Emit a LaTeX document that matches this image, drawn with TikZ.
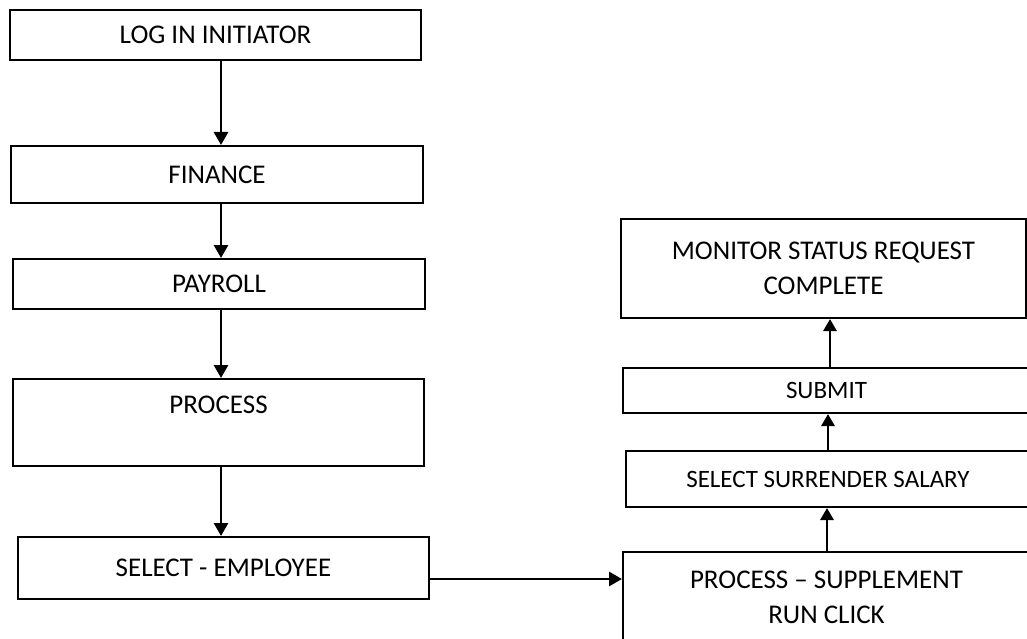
\documentclass[tikz,border=0pt]{standalone}
\usepackage{fontspec}
\setmainfont{Carlito}
\usetikzlibrary{arrows.meta}
\begin{document}
\begin{tikzpicture}[x=1pt,y=-1pt,
  stepbox/.style={draw=black, line width=2pt, rectangle, inner sep=0pt,
    align=center, font=\fontsize{27}{35}\selectfont, text=black},
  smallbox/.style={stepbox, font=\fontsize{25}{32}\selectfont},
  arr/.style={line width=2.8pt, -{Triangle[width=14pt,length=13pt]}},
  arrs/.style={line width=2.8pt, -{Triangle[width=13pt,length=12pt]}}]
  \useasboundingbox (0,0) rectangle (1027,639);
  \fill[white] (0,0) rectangle (1027,639);
  \clip (0,0) rectangle (1027,639);

  % left column
  \node[stepbox, minimum width=411pt, minimum height=50pt] (login) at (215.5,35) {LOG IN INITIATOR};
  \node[stepbox, minimum width=412pt, minimum height=57pt] (fin) at (217,174.5) {FINANCE};
  \node[stepbox, minimum width=412pt, minimum height=50pt] (pay) at (219,284) {PAYROLL};
  \node[stepbox, minimum width=411pt, minimum height=87pt] (proc) at (218.5,422.5) {PROCESS\\\mbox{}};
  \node[stepbox, minimum width=411pt, minimum height=62pt] (emp) at (223.5,568) {SELECT - EMPLOYEE};

  % right column
  \node[stepbox, minimum width=407pt, minimum height=91pt] (sup) at (826.5,597.5) {PROCESS – SUPPLEMENT\\RUN CLICK};
  \node[smallbox, minimum width=404pt, minimum height=56pt] (sal) at (828,479) {SELECT SURRENDER SALARY};
  \node[smallbox, minimum width=407pt, minimum height=45pt] (sub) at (826.5,390.5) {SUBMIT};
  \node[stepbox, minimum width=405pt, minimum height=99pt] (mon) at (823.5,268.5) {MONITOR STATUS REQUEST\\COMPLETE};

  % connector columns
  \coordinate (xl) at (221,0);
  \coordinate (xr1) at (827,0);
  \coordinate (xr2) at (828,0);
  \coordinate (xr3) at (830,0);
  \coordinate (h1) at ([yshift=-11pt]emp.east);

  \draw[arr] (login.south -| xl) -- (fin.north -| xl);
  \draw[arr] (fin.south -| xl) -- (pay.north -| xl);
  \draw[arr] (pay.south -| xl) -- (proc.north -| xl);
  \draw[arr] (proc.south -| xl) -- (emp.north -| xl);
  \draw[arr] (h1) -- (h1 -| sup.west);
  \draw[arrs] (sup.north -| xr1) -- (sal.south -| xr1);
  \draw[arrs] (sal.north -| xr2) -- (sub.south -| xr2);
  \draw[arrs] (sub.north -| xr3) -- (mon.south -| xr3);
\end{tikzpicture}
\end{document}
